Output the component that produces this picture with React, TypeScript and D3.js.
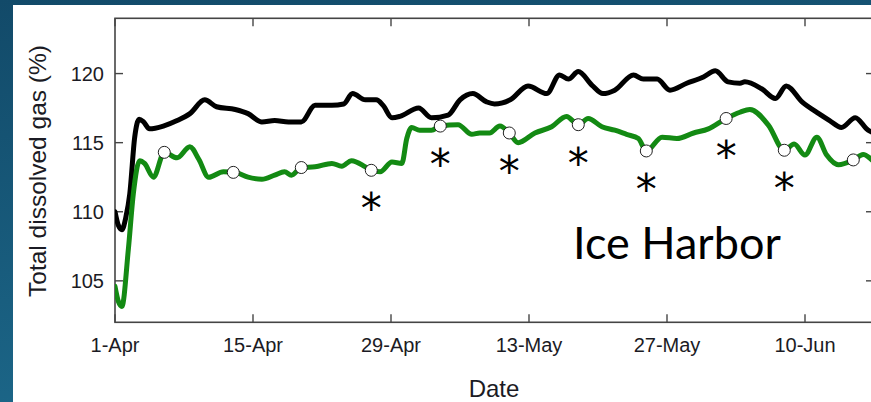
import React from "react";
import * as d3 from "d3";

// Days since 1-Apr and values (Total dissolved gas %)
const blackDays = [0, 0.35, 0.7, 1.1, 1.5, 2.0, 2.45, 2.9, 3.5, 4.9, 6.3, 7.6, 9.1, 10.3, 12.2, 13.5, 14.9, 16.2, 17.6, 18.9, 20.3, 22.0, 23.2, 24.1, 25.4, 26.5, 27.2, 28.1, 28.9, 30.8, 32.1, 33.8, 35.0, 36.3, 37.7, 38.5, 40.1, 41.9, 43.8, 45.1, 46.0, 47.0, 48.4, 49.5, 50.7, 52.6, 53.6, 55.0, 56.3, 58.0, 59.7, 60.9, 62.2, 63.4, 63.9, 65.6, 67.0, 68.1, 69.7, 71.4, 72.5, 73.7, 75.1, 76.4, 77];
const blackValues = [110.0, 109.0, 108.7, 109.6, 111.3, 115.4, 116.7, 116.5, 116.0, 116.2, 116.6, 117.1, 118.1, 117.6, 117.4, 117.1, 116.5, 116.6, 116.5, 116.5, 117.7, 117.7, 117.8, 118.55, 118.1, 118.1, 117.7, 116.8, 116.9, 117.5, 116.8, 117.0, 118.1, 118.55, 117.95, 117.8, 118.1, 119.1, 118.55, 119.9, 119.6, 120.15, 119.15, 118.55, 118.8, 119.9, 119.6, 119.6, 118.8, 119.3, 119.75, 120.2, 119.4, 119.3, 119.4, 118.9, 118.2, 119.1, 117.95, 117.1, 116.6, 116.1, 116.8, 115.9, 115.7];

const greenDays = [0, 0.35, 0.7, 1.35, 1.86, 2.5, 3.0, 3.9, 5.0, 6.3, 7.6, 8.5, 9.5, 11.0, 12.2, 13.5, 14.9, 16.2, 17.2, 17.9, 18.9, 20.3, 22.0, 23.0, 24.0, 25.4, 26.0, 26.9, 28.1, 29.1, 29.6, 30.1, 30.9, 32.1, 33.0, 34.8, 36.2, 37.0, 38.0, 39.05, 40.0, 40.9, 42.6, 44.3, 45.8, 47.0, 48.0, 49.4, 50.7, 51.9, 53.1, 53.9, 55.5, 57.0, 58.7, 60.2, 62.0, 63.4, 64.4, 66.3, 67.9, 68.9, 70.0, 71.2, 72.2, 73.4, 74.9, 75.9, 77];
const greenValues = [104.6, 103.5, 103.15, 107.25, 111.3, 113.7, 113.5, 112.5, 114.3, 113.9, 114.7, 113.8, 112.5, 112.9, 112.85, 112.5, 112.35, 112.65, 112.9, 112.65, 113.2, 113.25, 113.5, 113.3, 113.7, 113.25, 113.0, 112.9, 113.6, 113.5, 115.3, 116.1, 115.9, 115.9, 116.2, 116.3, 115.6, 115.7, 115.7, 116.2, 115.7, 115.0, 115.7, 116.15, 116.9, 116.3, 116.75, 116.15, 115.9, 115.6, 115.3, 114.4, 115.4, 115.3, 115.7, 116.0, 116.75, 117.2, 117.4, 116.25, 114.45, 114.9, 114.1, 115.4, 114.1, 113.4, 113.75, 114.15, 113.6];

const circleDays = [5.0, 12.0, 18.9, 26.0, 33.0, 40.0, 47.0, 53.9, 62.0, 67.9, 74.9];
const circleValues = [114.3, 112.85, 113.2, 113.0, 116.2, 115.7, 116.3, 114.4, 116.75, 114.45, 113.75];
const circleSignificant = [false, false, false, true, true, true, true, true, true, true, false];

const xTickDays = [0, 14, 28, 42, 56, 70];
const yTickValues = [105, 110, 115, 120];
const xDomainDays = [0, 77];
const yDomain = [102, 124];

const START = Date.UTC(2011, 3, 1);
const toDate = (d: number) => new Date(START + d * 86400000);

export default function App() {
  const W = 871;
  const H = 402;
  const left = 115, right = 874, top = 18.3, bottom = 322.3;
  const x = d3.scaleUtc().domain(xDomainDays.map(toDate)).range([left, right]);
  const y = d3.scaleLinear().domain(yDomain).range([bottom, top]);
  const fmt = d3.utcFormat("%-d-%b");

  const line = d3
    .line<[number, number]>()
    .x((d) => x(toDate(d[0])))
    .y((d) => y(d[1]))
    .curve(d3.curveMonotoneX);

  const blackPath = line(blackDays.map((d, i) => [d, blackValues[i]]));
  const greenPath = line(greenDays.map((d, i) => [d, greenValues[i]]));

  const axisColor = "#454545";
  const font = "'Liberation Sans', Arial, sans-serif";
  const tickLen = 8;

  return (
    <svg
      width={W}
      height={H}
      style={{ position: "fixed", left: 0, top: 0, display: "block" }}
    >
      <defs>
        <linearGradient id="bg" x1="0" y1="0" x2="0.3" y2="1">
          <stop offset="0" stopColor="#124a69" />
          <stop offset="1" stopColor="#1c6789" />
        </linearGradient>
        <clipPath id="plotClip">
          <rect x={left} y={top} width={right - left} height={bottom - top} />
        </clipPath>
      </defs>
      <rect x={0} y={0} width={W} height={H} fill="url(#bg)" />
      <rect x={13} y={5} width={W} height={H} fill="#ffffff" />

      {/* frame */}
      <rect
        x={left}
        y={top}
        width={right - left}
        height={bottom - top}
        fill="none"
        stroke={axisColor}
        strokeWidth={1.6}
      />

      {/* x ticks */}
      {xTickDays.map((d) => {
        const xx = x(toDate(d));
        return (
          <g key={"xt" + d}>
            <line x1={xx} x2={xx} y1={bottom} y2={bottom - tickLen} stroke={axisColor} strokeWidth={1.4} />
            <line x1={xx} x2={xx} y1={top} y2={top + tickLen} stroke={axisColor} strokeWidth={1.4} />
            <text
              x={xx}
              y={351.5}
              textAnchor="middle"
              fontFamily={font}
              fontSize={20}
              fill="#1b1b24"
            >
              {fmt(toDate(d))}
            </text>
          </g>
        );
      })}

      {/* y ticks */}
      {yTickValues.map((v) => {
        const yy = y(v);
        return (
          <g key={"yt" + v}>
            <line x1={left} x2={left + tickLen} y1={yy} y2={yy} stroke={axisColor} strokeWidth={1.4} />
            <line x1={right} x2={right - tickLen} y1={yy} y2={yy} stroke={axisColor} strokeWidth={1.4} />
            <text
              x={104}
              y={yy + 7.2}
              textAnchor="end"
              fontFamily={font}
              fontSize={20}
              fill="#1b1b24"
            >
              {v}
            </text>
          </g>
        );
      })}

      {/* lines */}
      <g clipPath="url(#plotClip)">
        <path d={blackPath || ""} fill="none" stroke="#000000" strokeWidth={5} strokeLinejoin="round" strokeLinecap="round" />
        <path d={greenPath || ""} fill="none" stroke="#138a13" strokeWidth={5} strokeLinejoin="round" strokeLinecap="round" />
        {circleDays.map((d, i) => (
          <circle
            key={"c" + i}
            cx={x(toDate(d))}
            cy={y(circleValues[i])}
            r={6}
            fill="#ffffff"
            stroke="#222"
            strokeWidth={1}
          />
        ))}
      </g>

      {/* significance asterisks */}
      {circleDays.map((d, i) =>
        circleSignificant[i] ? (
          <text
            key={"a" + i}
            x={x(toDate(d))}
            y={y(circleValues[i]) + 28 + 25}
            textAnchor="middle"
            fontFamily="'DejaVu Sans', sans-serif"
            fontSize={42}
            fill="#000"
          >
            *
          </text>
        ) : null
      )}

      {/* station label */}
      <text x={573} y={259} fontFamily="Lato, 'Open Sans', sans-serif" fontSize={45} fill="#000">
        Ice Harbor
      </text>

      {/* axis titles */}
      <text x={494} y={397} textAnchor="middle" fontFamily={font} fontSize={24} fill="#1b1b24">
        Date
      </text>
      <text
        transform={`translate(46,171) rotate(-90)`}
        textAnchor="middle"
        fontFamily={font}
        fontSize={24.5}
        fill="#1b1b24"
      >
        Total dissolved gas (%)
      </text>
    </svg>
  );
}
